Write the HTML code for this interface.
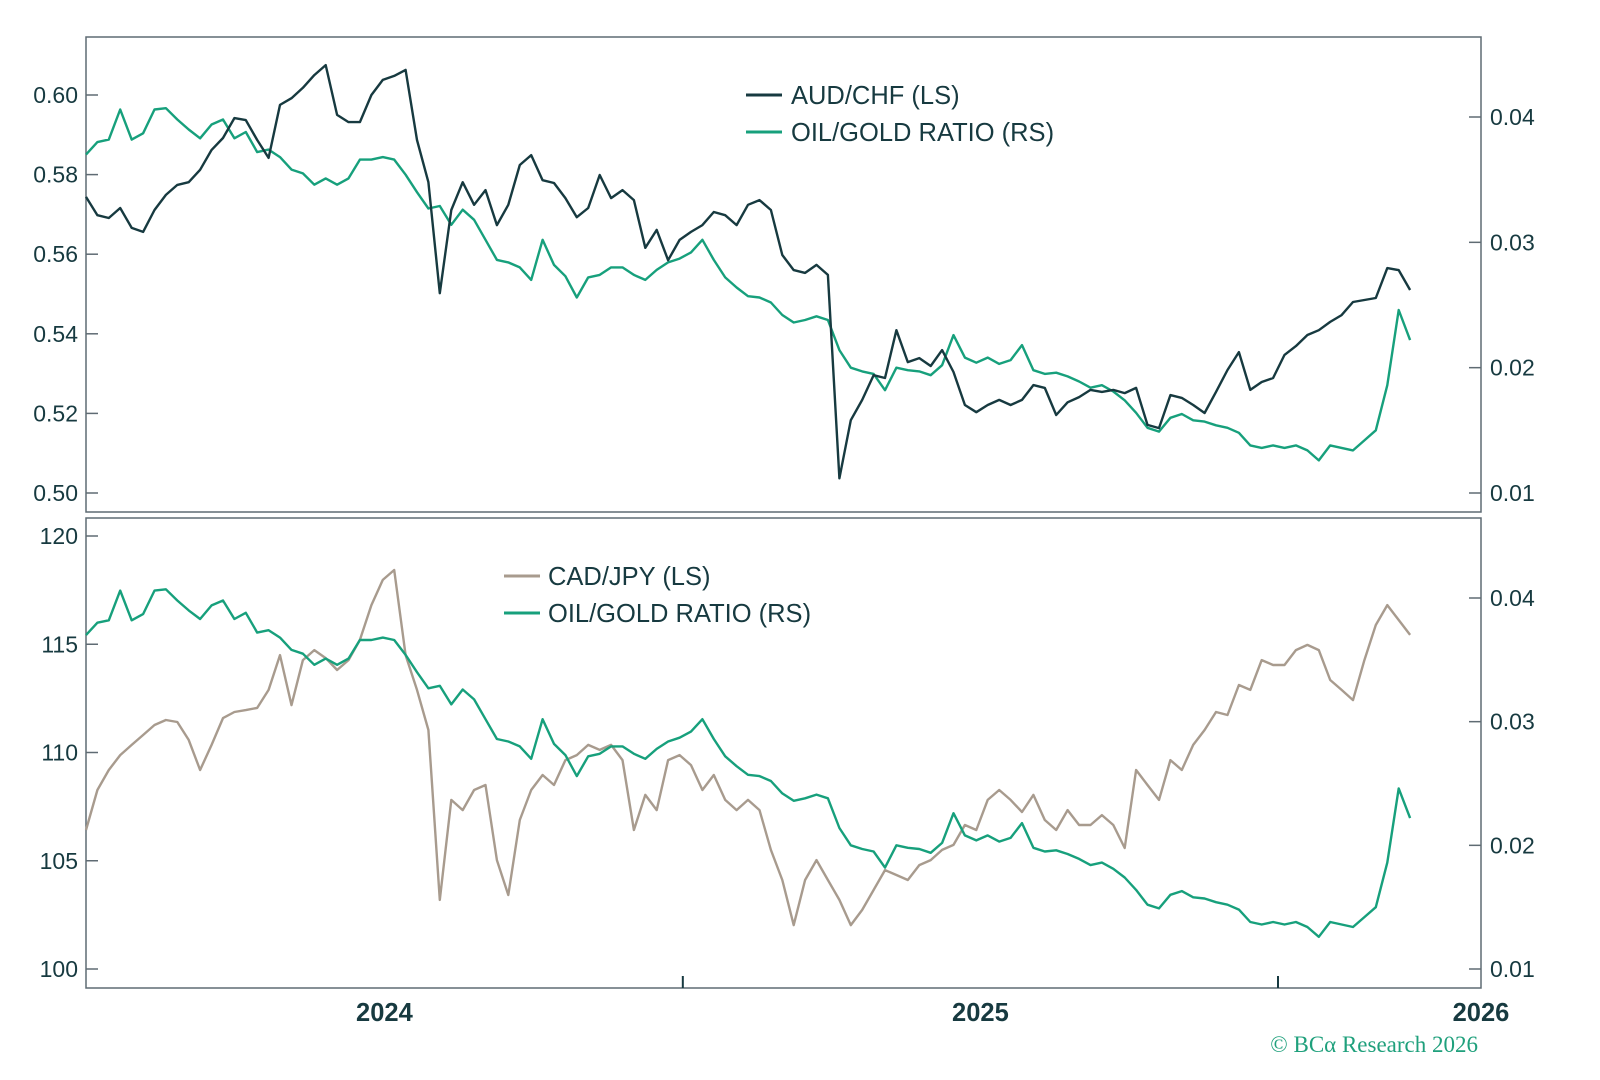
<!DOCTYPE html>
<html><head><meta charset="utf-8">
<style>
html,body{margin:0;padding:0;background:#fff;}
svg{display:block;}
text{font-family:"Liberation Sans",sans-serif;}
</style></head>
<body>
<svg id="chart" width="1600" height="1080" viewBox="0 0 1600 1080" xmlns="http://www.w3.org/2000/svg">
  <rect x="0" y="0" width="1600" height="1080" fill="#fff"/>
  <g id="top-panel">
    <rect x="86" y="37" width="1395" height="475" fill="none" stroke="#5f6b73" stroke-width="1.5"/>
  </g>
  <g id="bottom-panel">
    <rect x="86" y="518" width="1395" height="470" fill="none" stroke="#5f6b73" stroke-width="1.5"/>
  </g>
  <g>
    <line x1="746" y1="95" x2="782" y2="95" stroke="#173a40" stroke-width="3"/>
    <text x="791" y="104" font-size="25.5" fill="#173a40">AUD/CHF (LS)</text>
    <line x1="746" y1="132" x2="782" y2="132" stroke="#17a07c" stroke-width="3"/>
    <text x="791" y="141" font-size="25.5" fill="#173a40">OIL/GOLD RATIO (RS)</text>
  </g>
  <g>
    <line x1="504" y1="576" x2="540" y2="576" stroke="#a89b8e" stroke-width="3"/>
    <text x="548" y="585" font-size="25.5" fill="#173a40">CAD/JPY (LS)</text>
    <line x1="504" y1="613" x2="540" y2="613" stroke="#17a07c" stroke-width="3"/>
    <text x="548" y="622" font-size="25.5" fill="#173a40">OIL/GOLD RATIO (RS)</text>
  </g>
  <text x="1478" y="1052" text-anchor="end" font-size="23" fill="#1fa07c" style="font-family:'Liberation Serif',serif">© BCα Research 2026</text>
</svg>
<script>
// Weekly observations starting 2024-01-01
const startDate = "2024-01-01";
const stepDays = 7;
const audChf = [0.5744,0.5698,0.5691,0.5716,0.5666,0.5656,0.5711,0.5749,0.5774,0.5781,0.5812,0.5862,0.5892,0.5942,0.5937,0.5887,0.5842,0.5975,0.5992,0.6018,0.6050,0.6075,0.5950,0.5932,0.5932,0.6000,0.6038,0.6048,0.6063,0.5887,0.5781,0.5502,0.5711,0.5781,0.5724,0.5761,0.5673,0.5724,0.5824,0.5849,0.5786,0.5779,0.5741,0.5693,0.5716,0.5799,0.5741,0.5761,0.5736,0.5616,0.5661,0.5585,0.5636,0.5656,0.5673,0.5706,0.5698,0.5673,0.5724,0.5736,0.5711,0.5598,0.5560,0.5553,0.5573,0.5548,0.5037,0.5183,0.5234,0.5296,0.5289,0.5409,0.5329,0.5339,0.5319,0.5359,0.5304,0.5221,0.5203,0.5221,0.5234,0.5221,0.5234,0.5271,0.5264,0.5196,0.5228,0.5241,0.5259,0.5254,0.5259,0.5251,0.5264,0.5171,0.5163,0.5246,0.5239,0.5221,0.5201,0.5254,0.5309,0.5354,0.5259,0.5279,0.5289,0.5347,0.5369,0.5397,0.5409,0.5430,0.5447,0.5480,0.5485,0.5490,0.5565,0.5560,0.5510];
const oilGold = [0.0370,0.0380,0.0382,0.0406,0.0382,0.0387,0.0406,0.0407,0.0398,0.0390,0.0383,0.0394,0.0398,0.0383,0.0388,0.0372,0.0374,0.0368,0.0358,0.0355,0.0346,0.0351,0.0346,0.0351,0.0366,0.0366,0.0368,0.0366,0.0354,0.0340,0.0327,0.0329,0.0314,0.0326,0.0318,0.0302,0.0286,0.0284,0.0280,0.0270,0.0302,0.0282,0.0273,0.0256,0.0272,0.0274,0.0280,0.0280,0.0274,0.0270,0.0278,0.0284,0.0287,0.0292,0.0302,0.0286,0.0272,0.0264,0.0257,0.0256,0.0252,0.0242,0.0236,0.0238,0.0241,0.0238,0.0214,0.0200,0.0197,0.0195,0.0182,0.0200,0.0198,0.0197,0.0194,0.0202,0.0226,0.0208,0.0204,0.0208,0.0203,0.0206,0.0218,0.0198,0.0195,0.0196,0.0193,0.0189,0.0184,0.0186,0.0181,0.0174,0.0164,0.0152,0.0149,0.0160,0.0163,0.0158,0.0157,0.0154,0.0152,0.0148,0.0138,0.0136,0.0138,0.0136,0.0138,0.0134,0.0126,0.0138,0.0136,0.0134,0.0142,0.0150,0.0186,0.0246,0.0222];
const cadJpy = [106.42,108.27,109.19,109.88,110.35,110.81,111.27,111.50,111.41,110.58,109.19,110.35,111.59,111.87,111.96,112.06,112.89,114.50,112.19,114.27,114.73,114.36,113.81,114.27,115.20,116.81,117.97,118.43,114.50,112.89,111.04,103.19,107.81,107.34,108.27,108.50,105.03,103.42,106.88,108.27,108.96,108.50,109.65,109.88,110.35,110.12,110.35,109.65,106.42,108.04,107.34,109.65,109.88,109.42,108.27,108.96,107.81,107.34,107.81,107.34,105.50,104.11,102.03,104.11,105.03,104.11,103.19,102.03,102.73,103.65,104.57,104.34,104.11,104.80,105.03,105.50,105.73,106.65,106.42,107.81,108.27,107.81,107.25,108.04,106.88,106.42,107.34,106.65,106.65,107.11,106.65,105.59,109.19,108.50,107.81,109.65,109.19,110.35,111.04,111.87,111.73,113.12,112.89,114.27,114.04,114.04,114.73,114.97,114.73,113.35,112.89,112.42,114.27,115.89,116.81,116.12,115.43];
const topLeftTicks = [0.50,0.52,0.54,0.56,0.58,0.60];
const topRightTicks = [0.01,0.02,0.03,0.04];
const bottomLeftTicks = [100,105,110,115,120];
const bottomRightTicks = [0.01,0.02,0.03,0.04];
const yearTicks = ["2024-01-01","2025-01-01","2026-01-01"];
const yearLabels = ["2024","2025","2026"];

const NS = "http://www.w3.org/2000/svg";
const svg = document.getElementById("chart");
const DAY = 86400000;
const t0 = Date.parse("2024-01-01");
const t1 = Date.parse("2026-01-01");
function xScale(t){ return 86 + (t - t0) / (t1 - t0) * (1278 - 86); }
function lin(d0,d1,r0,r1){ return v => r0 + (v - d0) / (d1 - d0) * (r1 - r0); }
const yTopL = lin(0.50,0.60,493,95);
const yTopR = lin(0.01,0.04,493,117);
const yBotL = lin(100,120,969,536);
const yBotR = lin(0.01,0.04,969,598);
const start = Date.parse(startDate);
function dateAt(i){ return start + i * stepDays * DAY; }

function mk(tag, attrs, parent){
  const el = document.createElementNS(NS, tag);
  for (const k in attrs) el.setAttribute(k, attrs[k]);
  (parent || svg).appendChild(el);
  return el;
}
function drawSeries(vals, ys, color, name){
  let d = "";
  vals.forEach((v,i)=>{ d += (i ? "L" : "M") + xScale(dateAt(i)).toFixed(1) + "," + ys(v).toFixed(1); });
  const p = mk("path", {d:d, fill:"none", stroke:color, "stroke-width":2.4, "stroke-linejoin":"round"});
  
  
}
function leftTicks(ticks, ys, fmt, name){
  ticks.forEach(v=>{
    const y = ys(v);
    const l = mk("line", {x1:86, x2:98, y1:y, y2:y, stroke:"#5f6b73", "stroke-width":1.5});
    
    
    const t = mk("text", {x:78, y:y+8, "text-anchor":"end", "font-size":23, fill:"#173a40"});
    t.textContent = fmt(v);
    
    
  });
}
function rightTicks(ticks, ys, name){
  ticks.forEach(v=>{
    const y = ys(v);
    const l = mk("line", {x1:1469, x2:1481, y1:y, y2:y, stroke:"#5f6b73", "stroke-width":1.5});
    
    
    const t = mk("text", {x:1490, y:y+8, "font-size":23, fill:"#173a40"});
    t.textContent = v.toFixed(2);
    
    
  });
}
leftTicks(topLeftTicks, yTopL, v=>v.toFixed(2), 'top-left-axis');
rightTicks(topRightTicks, yTopR, 'top-right-axis');
leftTicks(bottomLeftTicks, yBotL, v=>String(v), 'bottom-left-axis');
rightTicks(bottomRightTicks, yBotR, 'bottom-right-axis');

yearTicks.forEach((d,i)=>{
  const x = xScale(Date.parse(d));
  if (i > 0) {
    const l = mk("line", {x1:x, x2:x, y1:976, y2:988, stroke:"#173a40", "stroke-width":2});
    
    
  }
  const next = i + 1 < yearTicks.length ? xScale(Date.parse(yearTicks[i+1])) : x + 598;
  let cx = (x + next) / 2;
  if (cx > 1481) cx = 1481;
  const t = mk("text", {x:cx, y:1021, "text-anchor":"middle", "font-size":25.5, "font-weight":"bold", fill:"#173a40"});
  t.textContent = yearLabels[i];
  
  
});

drawSeries(oilGold, yTopR, "#17a07c", "oil-gold-line-top");
drawSeries(audChf, yTopL, "#173a40", "audchf-line");
drawSeries(cadJpy, yBotL, "#a89b8e", "cadjpy-line");
drawSeries(oilGold, yBotR, "#17a07c", "oil-gold-line-bottom");
</script>
</body></html>
